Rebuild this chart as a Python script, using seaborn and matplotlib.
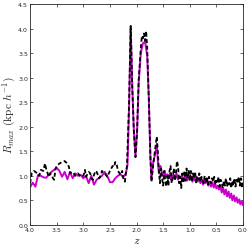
import matplotlib
matplotlib.use("Agg")
import matplotlib.pyplot as plt
import pandas as pd
import seaborn as sns

sns.set_style("ticks")
plt.rcParams['mathtext.fontset'] = 'cm'
plt.rcParams['xtick.direction'] = 'in'
plt.rcParams['ytick.direction'] = 'in'
plt.rcParams['xtick.top'] = True
plt.rcParams['ytick.right'] = True

# magenta (solid) curve
z_mag = [4.00, 3.95, 3.90, 3.85, 3.80, 3.75, 3.70, 3.65, 3.60, 3.55, 3.50, 3.45,
         3.40, 3.35, 3.30, 3.25, 3.20, 3.15, 3.10, 3.05, 3.00, 2.95, 2.90, 2.85,
         2.80, 2.75, 2.70, 2.65, 2.60, 2.55, 2.50, 2.45, 2.40, 2.35, 2.30, 2.25,
         2.20, 2.17, 2.14, 2.11, 2.08, 2.05, 2.02, 1.99, 1.96, 1.92, 1.88, 1.84,
         1.80, 1.77, 1.74, 1.72, 1.69, 1.65, 1.62, 1.60, 1.58, 1.55, 1.52, 1.50,
         1.47, 1.45, 1.42, 1.40, 1.37, 1.35, 1.32, 1.30, 1.27, 1.25, 1.22, 1.20,
         1.17, 1.15, 1.12, 1.10, 1.07, 1.05, 1.02, 1.00, 0.97, 0.95, 0.92, 0.90,
         0.87, 0.85, 0.82, 0.80, 0.77, 0.75, 0.72, 0.70, 0.67, 0.65, 0.62, 0.60,
         0.57, 0.55, 0.52, 0.50, 0.47, 0.45, 0.42, 0.40, 0.37, 0.35, 0.32, 0.30,
         0.27, 0.25, 0.22, 0.20, 0.17, 0.15, 0.12, 0.10, 0.07, 0.05, 0.02, 0.00]
r_mag = [0.77, 0.86, 0.78, 1.02, 1.00, 0.97, 0.96, 1.02, 1.08, 1.12, 1.16, 1.10,
         0.98, 1.08, 0.93, 1.08, 0.95, 1.05, 1.00, 1.02, 0.95, 1.00, 0.85, 1.00,
         0.82, 0.92, 0.96, 1.00, 1.08, 1.00, 0.87, 0.87, 0.95, 1.00, 1.03, 0.97,
         1.05, 1.22, 2.40, 4.05, 2.80, 1.90, 1.40, 1.90, 2.90, 3.50, 3.70, 3.73,
         3.45, 2.60, 1.40, 0.92, 1.25, 1.45, 1.65, 1.30, 1.05, 1.20, 1.05, 1.00,
         1.10, 0.98, 1.03, 0.95, 1.05, 0.92, 1.00, 1.02, 0.95, 1.05, 0.92, 0.98,
         0.95, 1.02, 0.92, 0.97, 1.00, 0.90, 1.00, 0.93, 0.98, 0.88, 0.97, 0.90,
         0.98, 0.88, 0.95, 0.85, 0.93, 0.82, 0.90, 0.85, 0.93, 0.80, 0.88, 0.78,
         0.86, 0.76, 0.84, 0.74, 0.80, 0.72, 0.78, 0.66, 0.75, 0.62, 0.72, 0.58,
         0.68, 0.55, 0.64, 0.50, 0.60, 0.48, 0.56, 0.45, 0.52, 0.42, 0.48, 0.40]

# black (dashed) curve
z_blk = [4.00, 3.97, 3.93, 3.90, 3.87, 3.83, 3.80, 3.75, 3.72, 3.70, 3.65, 3.62,
         3.60, 3.55, 3.52, 3.50, 3.45, 3.40, 3.35, 3.30, 3.27, 3.25, 3.20, 3.15,
         3.10, 3.05, 3.00, 2.97, 2.95, 2.90, 2.87, 2.85, 2.82, 2.80, 2.77, 2.75,
         2.70, 2.67, 2.65, 2.60, 2.55, 2.50, 2.45, 2.42, 2.40, 2.37, 2.35, 2.30,
         2.27, 2.25, 2.22, 2.20, 2.18, 2.14, 2.11, 2.08, 2.05, 2.02, 1.99, 1.96,
         1.92, 1.90, 1.88, 1.86, 1.84, 1.82, 1.80, 1.77, 1.74, 1.72, 1.69, 1.65,
         1.62, 1.60, 1.58, 1.56, 1.54, 1.52, 1.50, 1.48, 1.46, 1.44, 1.42, 1.40,
         1.38, 1.36, 1.34, 1.32, 1.30, 1.28, 1.26, 1.24, 1.22, 1.20, 1.18, 1.16,
         1.14, 1.12, 1.10, 1.08, 1.06, 1.04, 1.02, 1.00, 0.98, 0.96, 0.94, 0.92,
         0.90, 0.88, 0.86, 0.84, 0.82, 0.80, 0.78, 0.76, 0.74, 0.72, 0.70, 0.68,
         0.66, 0.64, 0.62, 0.60, 0.58, 0.56, 0.54, 0.52, 0.50, 0.48, 0.46, 0.44,
         0.42, 0.40, 0.38, 0.36, 0.34, 0.32, 0.30, 0.28, 0.26, 0.24, 0.22, 0.20,
         0.18, 0.16, 0.14, 0.12, 0.10, 0.08, 0.06, 0.04, 0.02, 0.00]
r_blk = [0.85, 1.05, 1.10, 1.08, 1.05, 1.00, 1.12, 1.10, 1.25, 1.15, 0.98, 1.05,
         1.00, 0.92, 1.15, 1.20, 1.25, 1.28, 1.30, 1.25, 1.18, 1.05, 1.08, 1.00,
         1.05, 0.98, 1.00, 1.12, 0.98, 1.08, 1.05, 0.95, 0.92, 1.02, 1.10, 1.08,
         0.95, 1.02, 1.10, 1.05, 0.98, 1.10, 1.20, 1.18, 1.28, 1.22, 1.10, 1.02,
         1.10, 0.95, 0.88, 1.05, 1.20, 2.50, 4.05, 2.80, 1.90, 1.38, 1.90, 2.95,
         3.60, 3.85, 3.80, 3.90, 3.75, 3.95, 3.60, 2.60, 1.40, 0.88, 1.20, 1.55,
         1.80, 1.50, 1.10, 0.85, 1.15, 0.95, 0.80, 1.10, 0.88, 0.78, 1.00, 0.80,
         1.10, 1.20, 0.85, 0.95, 1.15, 0.90, 1.05, 1.30, 1.20, 0.85, 0.98, 0.75,
         1.05, 0.85, 1.10, 0.90, 1.15, 0.95, 1.12, 0.90, 1.10, 0.88, 1.05, 0.95,
         1.08, 0.85, 1.00, 0.92, 1.05, 0.88, 0.98, 0.92, 0.85, 1.00, 0.88, 0.95,
         0.82, 0.98, 0.90, 0.85, 0.95, 0.88, 0.98, 0.82, 0.90, 0.85, 0.98, 0.78,
         0.92, 0.85, 0.75, 0.90, 0.80, 0.95, 0.78, 0.88, 0.82, 0.95, 0.75, 0.90,
         0.80, 0.95, 0.78, 0.92, 0.85, 0.98, 0.80, 0.95, 0.75, 0.92]

mag_df = pd.DataFrame({'z': z_mag, 'r': r_mag})
blk_df = pd.DataFrame({'z': z_blk, 'r': r_blk})

fig = plt.figure(figsize=(2.51, 2.51), dpi=100)
ax = fig.add_axes([0.12, 0.1, 0.848, 0.88])

sns.lineplot(ax=ax, data=mag_df, x='z', y='r', color='#cc00cc', lw=1.4,
             estimator=None, sort=False)
sns.lineplot(ax=ax, data=blk_df, x='z', y='r', color='black', lw=1.3,
             estimator=None, sort=False, dashes=False, linestyle=(0, (2.2, 1.4)))

ax.set_xlim(4.0, 0.0)
ax.set_ylim(0.0, 4.5)
ax.set_xticks([4.0, 3.5, 3.0, 2.5, 2.0, 1.5, 1.0, 0.5, 0.0])
ax.set_yticks([0.0, 0.5, 1.0, 1.5, 2.0, 2.5, 3.0, 3.5, 4.0, 4.5])
ax.tick_params(labelsize=4.5, length=2.5, width=0.5, pad=1.5)
for s in ax.spines.values():
    s.set_linewidth(0.6)

ax.set_xlabel(r'$z$', fontsize=8.5)
ax.set_ylabel(r'$R_{max}\ (\mathrm{kpc}\ h^{-1})$', fontsize=8.2)
ax.xaxis.set_label_coords(0.5, -0.036)
ax.yaxis.set_label_coords(-0.056, 0.5)

fig.savefig('out.png', dpi=100)
